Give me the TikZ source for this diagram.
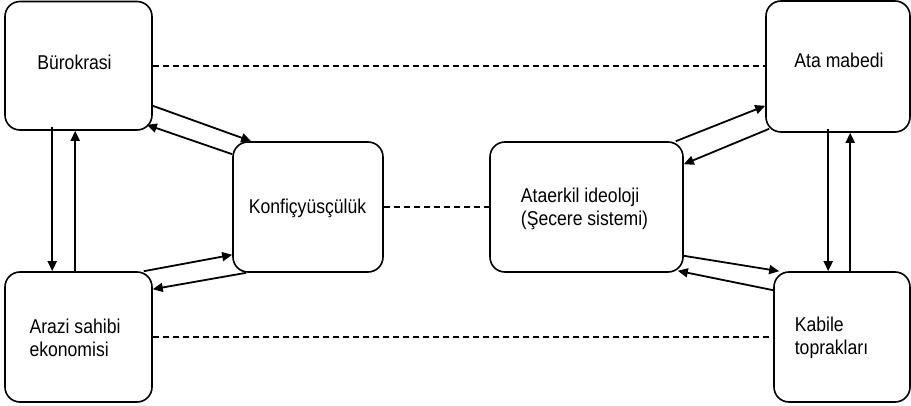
\documentclass[tikz,border=0pt]{standalone}
\usepackage{fontspec}
\setmainfont[FakeStretch=0.88]{Liberation Sans}
\usetikzlibrary{arrows.meta}
\begin{document}
\begin{tikzpicture}[x=1pt,y=-1pt,
  box/.style={draw,line width=1.6pt,rounded corners=15pt,rectangle,inner sep=0pt},
  lbl/.style={font=\fontsize{20}{23.5}\selectfont,align=left,inner sep=0pt},
  arr/.style={line width=1.8pt,-{Triangle[length=10pt,width=9pt]}},
  link/.style={line width=1.3pt,dash pattern=on 6pt off 4pt}]
\useasboundingbox (0,0) rectangle (911,406);
% boxes
\node[box,minimum width=147pt,minimum height=128.5pt] (b) at (78.5,65.75) {};
\node[box,minimum width=144pt,minimum height=131pt] (a) at (838,66.5) {};
\node[box,minimum width=150pt,minimum height=130pt] (k) at (308,207) {};
\node[box,minimum width=193pt,minimum height=130pt] (e) at (586.5,207) {};
\node[box,minimum width=147pt,minimum height=130pt] (r) at (78.5,337) {};
\node[box,minimum width=136pt,minimum height=130pt] (t) at (842,337) {};
% labels
\node[lbl] (bl) at (74.5,62) {Bürokrasi};
\node[lbl] (al) at (839,60) {Ata mabedi};
\node[lbl] (kl) at (307.5,208) {Konfiçyüsçülük};
\node[lbl] (el) at (584.5,209) {Ataerkil ideoloji\\(Şecere sistemi)};
\node[lbl] (rl) at (75,338) {Arazi sahibi\\ekonomisi};
\node[lbl] (tl) at (831.5,338) {Kabile\\toprakları};
% dashed links
\draw[link] ([yshift=-0.25pt]b.east) -- ([yshift=-0.25pt]b.east -| a.west);
\draw[link] (k.east) -- (e.west);
\draw[link] (r.east) -- (t.west);
% left triangle
\draw[arr] ([yshift=25pt]b.south east) -- ([xshift=19pt]k.north west);
\draw[arr] ([yshift=-13pt]k.north west) -- ([shift={(-6pt,6pt)}]b.south east);
\draw[arr] ([shift={(48pt,4pt)}]b.south west) -- ([xshift=48pt]r.north west);
\draw[arr] ([xshift=71pt]r.north west) -- ([xshift=71pt]b.south west);
\draw[arr] ([xshift=-9pt]r.north east) -- ([yshift=18pt]k.south west);
\draw[arr] ([xshift=14pt]k.south west) -- ([yshift=-18pt]r.north east);
% right triangle
\draw[arr] ([xshift=-8pt]e.north east) -- ([yshift=27pt]a.south west);
\draw[arr] ([shift={(4pt,4pt)}]a.south west) -- ([yshift=-23pt]e.north east);
\draw[arr] ([shift={(63pt,4pt)}]a.south west) -- ([xshift=55pt]t.north west);
\draw[arr] ([xshift=77pt]t.north west) -- ([xshift=85pt]a.south west);
\draw[arr] ([yshift=17pt]e.south east) -- ([xshift=6pt]t.north west);
\draw[arr] ([yshift=-19pt]t.north west) -- ([shift={(-6pt,2pt)}]e.south east);
\end{tikzpicture}
\end{document}
